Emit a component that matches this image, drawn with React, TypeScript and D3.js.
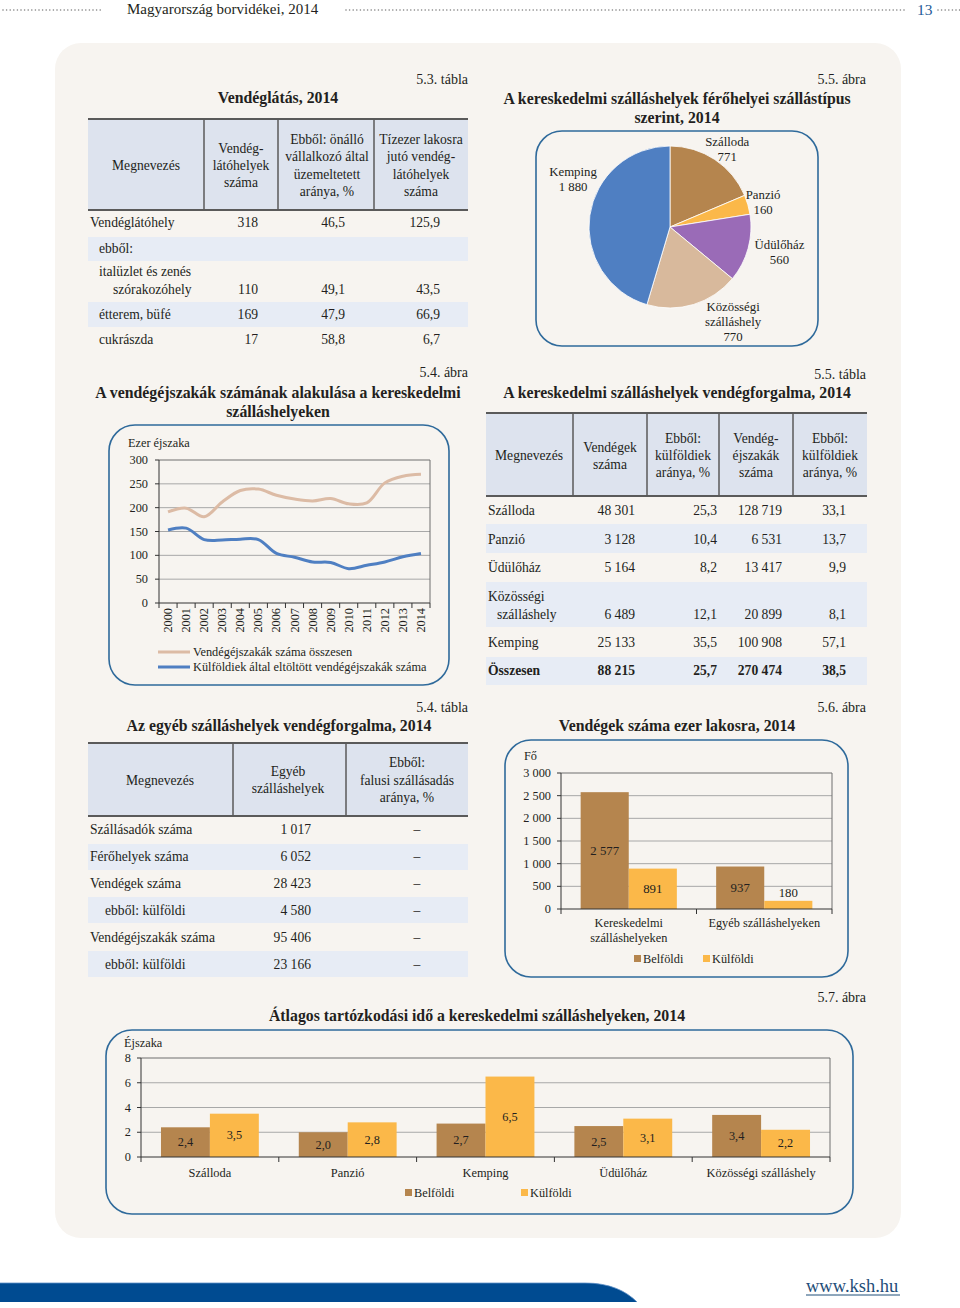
import React from "react";
import * as d3 from "d3";

const FONT = "'Liberation Serif', 'Times New Roman', serif";
const INK = "#231f20";
const PANEL = "#f7f4f0";
const HEAD_FILL = "#dde3ee";
const BAND_FILL = "#e7ecf5";
const RULE = "#5a5a5a";
const BOX = "#2f6a9b";
const BROWN = "#b5854e";
const YELLOW = "#fbb849";
const PURPLE = "#9a6bb7";
const TAN = "#d8b99c";
const BLUE = "#4f7fc2";
const LINE_TAN = "#dcbba5";
const GRID = "#a8a8a8";
const FRAME = "#6e6e6e";

const BODY = 13.6;
const TITLE = 15.8;
const SMALL = 12.3;

const hu = d3.formatLocale({ decimal: ",", thousands: " ", grouping: [3], currency: ["", ""] });
const fInt = hu.format(",d");
const f1 = hu.format(",.1f");

// ---------- 5.3 tábla ----------
const t53Head = [
  ["Megnevezés"],
  ["Vendég-", "látóhelyek", "száma"],
  ["Ebből: önálló", "vállalkozó által", "üzemeltetett", "aránya, %"],
  ["Tízezer lakosra", "jutó vendég-", "látóhelyek", "száma"],
];
const t53Names = [["Vendéglátóhely"], ["ebből:"], ["italüzlet és zenés", "szórakozóhely"], ["étterem, büfé"], ["cukrászda"]];
const t53Count = [318, null, 110, 169, 17];
const t53Self = [46.5, null, 49.1, 47.9, 58.8];
const t53Per10k = [125.9, null, 43.5, 66.9, 6.7];

// ---------- 5.5 ábra ----------
const pieNames = [["Szálloda"], ["Panzió"], ["Üdülőház"], ["Közösségi", "szálláshely"], ["Kemping"]];
const pieValues = [771, 160, 560, 770, 1880];
const pieColors = [BROWN, YELLOW, PURPLE, TAN, BLUE];

// ---------- 5.4 ábra ----------
const years = ["2000", "2001", "2002", "2003", "2004", "2005", "2006", "2007", "2008", "2009", "2010", "2011", "2012", "2013", "2014"];
const nightsTotal = [191, 199, 181, 212, 236, 239, 226, 218, 214, 219, 208, 210, 252, 266, 270];
const nightsForeign = [153, 157, 133, 132, 134, 133, 104, 96, 86, 85, 72, 79, 86, 97, 104];
const lineSeries = ["Vendégéjszakák száma összesen", "Külföldiek által eltöltött vendégéjszakák száma"];

// ---------- 5.5 tábla ----------
const t55Head = [
  ["Megnevezés"],
  ["Vendégek", "száma"],
  ["Ebből:", "külföldiek", "aránya, %"],
  ["Vendég-", "éjszakák", "száma"],
  ["Ebből:", "külföldiek", "aránya, %"],
];
const t55Names = [["Szálloda"], ["Panzió"], ["Üdülőház"], ["Közösségi", "szálláshely"], ["Kemping"], ["Összesen"]];
const t55Guests = [48301, 3128, 5164, 6489, 25133, 88215];
const t55GuestsForeign = [25.3, 10.4, 8.2, 12.1, 35.5, 25.7];
const t55Nights = [128719, 6531, 13417, 20899, 100908, 270474];
const t55NightsForeign = [33.1, 13.7, 9.9, 8.1, 57.1, 38.5];

// ---------- 5.4 tábla ----------
const t54Head = [["Megnevezés"], ["Egyéb", "szálláshelyek"], ["Ebből:", "falusi szállásadás", "aránya, %"]];
const t54Names = ["Szállásadók száma", "Férőhelyek száma", "Vendégek száma", "ebből: külföldi", "Vendégéjszakák száma", "ebből: külföldi"];
const t54Indent = [false, false, false, true, false, true];
const t54Values = [1017, 6052, 28423, 4580, 95406, 23166];
const t54Rural = [null, null, null, null, null, null];

// ---------- 5.6 ábra ----------
const b56Cats = [["Kereskedelmi", "szálláshelyeken"], ["Egyéb szálláshelyeken"]];
const b56Dom = [2577, 937];
const b56For = [891, 180];

// ---------- 5.7 ábra ----------
const b57Cats = ["Szálloda", "Panzió", "Kemping", "Üdülőház", "Közösségi szálláshely"];
const b57Dom = [2.4, 2.0, 2.7, 2.5, 3.4];
const b57For = [3.5, 2.8, 6.5, 3.1, 2.2];

const legendKeys = ["Belföldi", "Külföldi"];

// ---------- helpers ----------
type TP = { x: number; y: number; a?: "start" | "middle" | "end"; s?: number; w?: string | number; f?: string; children: React.ReactNode };
function T({ x, y, a = "start", s = BODY, w = "normal", f = INK, children }: TP) {
  return (
    <text x={x} y={y} textAnchor={a} fontSize={s} fontWeight={w} fill={f} fontFamily={FONT}>
      {children}
    </text>
  );
}
function Lines({ x, cy, lines, lh, a = "middle", s = BODY }: { x: number; cy: number; lines: string[]; lh: number; a?: any; s?: number }) {
  const y0 = cy - ((lines.length - 1) * lh) / 2;
  return (
    <g>
      {lines.map((l, i) => (
        <T key={i} x={x} y={y0 + i * lh} a={a} s={s}>
          {l}
        </T>
      ))}
    </g>
  );
}
function Box({ x, y, w, h }: { x: number; y: number; w: number; h: number }) {
  return <rect x={x} y={y} width={w} height={h} rx={26} ry={26} fill="none" stroke={BOX} strokeWidth={1.6} />;
}
function TableHead({ x0, x1, y0, y1, dividers, centers, heads, cy, lh }: any) {
  return (
    <g>
      <rect x={x0} y={y0} width={x1 - x0} height={y1 - y0} fill={HEAD_FILL} />
      <line x1={x0} x2={x1} y1={y0} y2={y0} stroke={RULE} strokeWidth={2} />
      <line x1={x0} x2={x1} y1={y1} y2={y1} stroke={RULE} strokeWidth={2} />
      {dividers.map((d: number) => (
        <line key={d} x1={d} x2={d} y1={y0} y2={y1} stroke={RULE} strokeWidth={1.5} />
      ))}
      {heads.map((h: string[], i: number) => (
        <Lines key={i} x={centers[i]} cy={cy} lines={h} lh={lh} />
      ))}
    </g>
  );
}

function Header() {
  const dots = [...d3.range(3, 101, 3.6), ...d3.range(346, 906, 3.6), ...d3.range(938, 960, 3.6)];
  return (
    <g>
      {dots.map((x, i) => (
        <circle key={i} cx={x} cy={10} r={0.8} fill="#808080" />
      ))}
      <T x={127} y={14} s={15}>Magyarország borvidékei, 2014</T>
      <T x={917} y={15} s={15.5} f="#1f5b97">13</T>
    </g>
  );
}

function Table53() {
  const baselines = [227, 253, 294, 319, 344];
  const bands = [null, [237, 261], null, [302, 327], null];
  const rights = [258, 345, 440];
  return (
    <g>
      <T x={468} y={84} a="end" s={14}>5.3. tábla</T>
      <T x={278} y={103} a="middle" s={TITLE} w="bold">Vendéglátás, 2014</T>
      {bands.map((b, i) => (b ? <rect key={i} x={88} y={b[0]} width={380} height={b[1] - b[0]} fill={BAND_FILL} /> : null))}
      <TableHead x0={88} x1={468} y0={119} y1={210} dividers={[204, 278, 374]} centers={[146, 241, 327, 421]} heads={t53Head} cy={170} lh={17.4} />
      {t53Names.map((n, i) => {
        const yb = baselines[i];
        return (
          <g key={i}>
            {n.length === 1 ? (
              <T x={i === 0 ? 90 : 99} y={yb}>{n[0]}</T>
            ) : (
              <g>
                <T x={99} y={yb - 18}>{n[0]}</T>
                <T x={113} y={yb}>{n[1]}</T>
              </g>
            )}
            {t53Count[i] != null && <T x={rights[0]} y={yb} a="end">{fInt(t53Count[i] as number)}</T>}
            {t53Self[i] != null && <T x={rights[1]} y={yb} a="end">{f1(t53Self[i] as number)}</T>}
            {t53Per10k[i] != null && <T x={rights[2]} y={yb} a="end">{f1(t53Per10k[i] as number)}</T>}
          </g>
        );
      })}
    </g>
  );
}

function Pie55() {
  const cx = 670, cy = 227, r = 81;
  const arcs = d3.pie<number>().sort(null).value((d) => d)(pieValues);
  const arc = d3.arc<d3.PieArcDatum<number>>().innerRadius(0).outerRadius(r);
  const labelArc = d3.arc<d3.PieArcDatum<number>>().innerRadius(100).outerRadius(100);
  const offsets = [[2, 9.5], [-3, 7], [13, 3.5], [34, 3.5], [2, -29]];
  return (
    <g>
      <T x={866} y={84} a="end" s={14}>5.5. ábra</T>
      <T x={677} y={104} a="middle" s={TITLE} w="bold">A kereskedelmi szálláshelyek férőhelyei szállástípus</T>
      <T x={677} y={123} a="middle" s={TITLE} w="bold">szerint, 2014</T>
      <Box x={536} y={131} w={282} h={215} />
      <g transform={`translate(${cx},${cy})`}>
        {arcs.map((a, i) => (
          <path key={i} d={arc(a) as string} fill={pieColors[i]} stroke="#fff" strokeWidth={0.8} />
        ))}
        {arcs.map((a, i) => {
          const [lx, ly] = labelArc.centroid(a);
          const lines = [...pieNames[i], fInt(pieValues[i])];
          return <Lines key={i} x={lx + offsets[i][0]} cy={ly + offsets[i][1]} lines={lines} lh={14.8} s={12.8} />;
        })}
      </g>
    </g>
  );
}

function Line54() {
  const x = d3.scaleBand().domain(years).range([159, 430]);
  const y = d3.scaleLinear().domain([0, 300]).range([603, 460]);
  const px = (yr: string) => (x(yr) as number) + x.bandwidth() / 2;
  const line = d3
    .line<number>()
    .x((_, i) => px(years[i]))
    .y((d) => y(d))
    .curve(d3.curveCatmullRom.alpha(0.5));
  const ticks = y.ticks(6);
  const edges = d3.range(years.length + 1).map((i) => 159 + i * x.step());
  return (
    <g>
      <T x={468} y={377} a="end" s={14}>5.4. ábra</T>
      <T x={278} y={398} a="middle" s={TITLE} w="bold">A vendégéjszakák számának alakulása a kereskedelmi</T>
      <T x={278} y={417} a="middle" s={TITLE} w="bold">szálláshelyeken</T>
      <Box x={109} y={425} w={340} h={260} />
      <T x={128} y={447} s={SMALL}>Ezer éjszaka</T>
      {ticks.map((t) => (
        <g key={t}>
          {t > 0 && t < 300 && <line x1={159} x2={430} y1={y(t)} y2={y(t)} stroke={GRID} strokeWidth={1} />}
          <line x1={155} x2={159} y1={y(t)} y2={y(t)} stroke="#333" />
          <T x={148} y={y(t) + 4} a="end" s={SMALL}>{t}</T>
        </g>
      ))}
      <line x1={159} x2={430} y1={y(300)} y2={y(300)} stroke={FRAME} />
      <line x1={430} x2={430} y1={y(300)} y2={y(0)} stroke={FRAME} />
      <line x1={159} x2={159} y1={y(300)} y2={y(0)} stroke="#333" />
      <line x1={159} x2={430} y1={y(0)} y2={y(0)} stroke="#333" />
      {edges.map((e, i) => (
        <line key={i} x1={e} x2={e} y1={y(0)} y2={y(0) + 5} stroke="#333" />
      ))}
      {years.map((yr) => (
        <text key={yr} transform={`translate(${px(yr) + 4},${608}) rotate(-90)`} textAnchor="end" fontSize={SMALL} fontFamily={FONT} fill={INK}>
          {yr}
        </text>
      ))}
      <path d={line(nightsTotal) as string} fill="none" stroke={LINE_TAN} strokeWidth={3} strokeLinejoin="round" />
      <path d={line(nightsForeign) as string} fill="none" stroke={BLUE} strokeWidth={3} strokeLinejoin="round" />
      {[LINE_TAN, BLUE].map((c, i) => (
        <g key={i}>
          <line x1={158} x2={190} y1={652 + i * 15} y2={652 + i * 15} stroke={c} strokeWidth={3} />
          <T x={193} y={656 + i * 15} s={SMALL}>{lineSeries[i]}</T>
        </g>
      ))}
    </g>
  );
}

function Table55() {
  const baselines = [515, 544, 572, 619, 647, 675];
  const bands = [null, [524, 553], null, [582, 627], null, [657, 685]];
  const rights = [635, 717, 782, 846];
  return (
    <g>
      <T x={866} y={379} a="end" s={14}>5.5. tábla</T>
      <T x={677} y={398} a="middle" s={TITLE} w="bold">A kereskedelmi szálláshelyek vendégforgalma, 2014</T>
      {bands.map((b, i) => (b ? <rect key={i} x={486} y={b[0]} width={381} height={b[1] - b[0]} fill={BAND_FILL} /> : null))}
      <TableHead x0={486} x1={867} y0={413} y1={496} dividers={[573, 647, 719, 793]} centers={[529, 610, 683, 756, 830]} heads={t55Head} cy={460} lh={17} />
      {t55Names.map((n, i) => {
        const yb = baselines[i];
        const w = i === t55Names.length - 1 ? "bold" : "normal";
        return (
          <g key={i}>
            {n.length === 1 ? (
              <T x={488} y={yb} w={w}>{n[0]}</T>
            ) : (
              <g>
                <T x={488} y={yb - 18}>{n[0]}</T>
                <T x={497} y={yb}>{n[1]}</T>
              </g>
            )}
            <T x={rights[0]} y={yb} a="end" w={w}>{fInt(t55Guests[i])}</T>
            <T x={rights[1]} y={yb} a="end" w={w}>{f1(t55GuestsForeign[i])}</T>
            <T x={rights[2]} y={yb} a="end" w={w}>{fInt(t55Nights[i])}</T>
            <T x={rights[3]} y={yb} a="end" w={w}>{f1(t55NightsForeign[i])}</T>
          </g>
        );
      })}
    </g>
  );
}

function Table54() {
  const baselines = [834, 861, 888, 915, 942, 969];
  const bands = [null, [844, 870], null, [897, 923], null, [951, 977]];
  return (
    <g>
      <T x={468} y={712} a="end" s={14}>5.4. tábla</T>
      <T x={279} y={731} a="middle" s={TITLE} w="bold">Az egyéb szálláshelyek vendégforgalma, 2014</T>
      {bands.map((b, i) => (b ? <rect key={i} x={88} y={b[0]} width={380} height={b[1] - b[0]} fill={BAND_FILL} /> : null))}
      <TableHead x0={88} x1={468} y0={743} y1={816} dividers={[233, 346]} centers={[160, 288, 407]} heads={t54Head} cy={784.5} lh={17.5} />
      {t54Names.map((n, i) => (
        <g key={i}>
          <T x={t54Indent[i] ? 105 : 90} y={baselines[i]}>{n}</T>
          <T x={311} y={baselines[i]} a="end">{fInt(t54Values[i])}</T>
          <T x={417} y={baselines[i]} a="middle">{t54Rural[i] == null ? "–" : f1(t54Rural[i] as any)}</T>
        </g>
      ))}
    </g>
  );
}

function Legend({ x0, x1, y }: { x0: number; x1: number; y: number }) {
  return (
    <g>
      {[x0, x1].map((x, i) => (
        <g key={i}>
          <rect x={x} y={y - 4} width={7} height={7} fill={i === 0 ? BROWN : YELLOW} />
          <T x={x + 9} y={y + 4} s={SMALL}>{legendKeys[i]}</T>
        </g>
      ))}
    </g>
  );
}

function Bar56() {
  const keys = ["dom", "for"];
  const x0 = d3.scaleBand().domain(["0", "1"]).range([561, 832]).paddingInner(0.29).paddingOuter(0.145);
  const x1 = d3.scaleBand().domain(keys).range([0, x0.bandwidth()]);
  const y = d3.scaleLinear().domain([0, 3000]).range([909, 773]);
  const ticks = y.ticks(6);
  return (
    <g>
      <T x={866} y={712} a="end" s={14}>5.6. ábra</T>
      <T x={677} y={731} a="middle" s={TITLE} w="bold">Vendégek száma ezer lakosra, 2014</T>
      <Box x={505} y={740} w={343} h={237} />
      <T x={524} y={760} s={SMALL}>Fő</T>
      {ticks.map((t) => (
        <g key={t}>
          {t > 0 && t < 3000 && <line x1={561} x2={832} y1={y(t)} y2={y(t)} stroke={GRID} />}
          <line x1={557} x2={561} y1={y(t)} y2={y(t)} stroke="#333" />
          <T x={551} y={y(t) + 4} a="end" s={SMALL}>{fInt(t)}</T>
        </g>
      ))}
      <line x1={561} x2={832} y1={y(3000)} y2={y(3000)} stroke={FRAME} />
      <line x1={832} x2={832} y1={y(3000)} y2={y(0)} stroke={FRAME} />
      {b56Dom.map((_, i) => {
        const vals = [b56Dom[i], b56For[i]];
        const gx = x0(String(i)) as number;
        return (
          <g key={i}>
            {vals.map((v, k) => {
              const bx = gx + (x1(keys[k]) as number);
              const h = y(0) - y(v);
              const ly = h < 20 ? y(v) - 4 : y(v / 2) + 4;
              return (
                <g key={k}>
                  <rect x={bx} y={y(v)} width={x1.bandwidth()} height={h} fill={k === 0 ? BROWN : YELLOW} />
                  <T x={bx + x1.bandwidth() / 2} y={ly} a="middle" s={12.8}>{fInt(v)}</T>
                </g>
              );
            })}
            <Lines x={gx + x0.bandwidth() / 2} cy={927 + (b56Cats[i].length - 1) * 7.5} lines={b56Cats[i]} lh={15} s={SMALL} />
          </g>
        );
      })}
      <line x1={561} x2={561} y1={y(3000)} y2={y(0)} stroke="#333" />
      <line x1={561} x2={832} y1={y(0)} y2={y(0)} stroke="#333" />
      {[0, 1, 2].map((i) => {
        const ex = 561 + i * x0.step();
        return <line key={i} x1={ex} x2={ex} y1={y(0)} y2={y(0) + 5} stroke="#333" />;
      })}
      <Legend x0={634} x1={703} y={959} />
    </g>
  );
}

function Bar57() {
  const keys = ["dom", "for"];
  const x0 = d3.scaleBand().domain(b57Cats).range([141, 830]).paddingInner(0.29).paddingOuter(0.145);
  const x1 = d3.scaleBand().domain(keys).range([0, x0.bandwidth()]);
  const y = d3.scaleLinear().domain([0, 8]).range([1157, 1058]);
  const ticks = y.ticks(4);
  return (
    <g>
      <T x={866} y={1002} a="end" s={14}>5.7. ábra</T>
      <T x={477} y={1021} a="middle" s={TITLE} w="bold">Átlagos tartózkodási idő a kereskedelmi szálláshelyeken, 2014</T>
      <Box x={106} y={1030} w={747} h={184} />
      <T x={124} y={1047} s={SMALL}>Éjszaka</T>
      {ticks.map((t) => (
        <g key={t}>
          {t > 0 && t < 8 && <line x1={141} x2={830} y1={y(t)} y2={y(t)} stroke={GRID} />}
          <line x1={137} x2={141} y1={y(t)} y2={y(t)} stroke="#333" />
          <T x={131} y={y(t) + 4} a="end" s={SMALL}>{t}</T>
        </g>
      ))}
      <line x1={141} x2={830} y1={y(8)} y2={y(8)} stroke={FRAME} />
      <line x1={830} x2={830} y1={y(8)} y2={y(0)} stroke={FRAME} />
      {b57Cats.map((c, i) => {
        const vals = [b57Dom[i], b57For[i]];
        const gx = x0(c) as number;
        return (
          <g key={c}>
            {vals.map((v, k) => {
              const bx = gx + (x1(keys[k]) as number);
              return (
                <g key={k}>
                  <rect x={bx} y={y(v)} width={x1.bandwidth()} height={y(0) - y(v)} fill={k === 0 ? BROWN : YELLOW} />
                  <T x={bx + x1.bandwidth() / 2} y={y(v / 2) + 4} a="middle" s={SMALL}>{f1(v)}</T>
                </g>
              );
            })}
            <T x={gx + x0.bandwidth() / 2} y={1177} a="middle" s={12.4}>{c}</T>
          </g>
        );
      })}
      <line x1={141} x2={141} y1={y(8)} y2={y(0)} stroke="#333" />
      <line x1={141} x2={830} y1={y(0)} y2={y(0)} stroke="#333" />
      {d3.range(b57Cats.length + 1).map((i) => {
        const ex = 141 + i * x0.step();
        return <line key={i} x1={ex} x2={ex} y1={y(0)} y2={y(0) + 5} stroke="#333" />;
      })}
      <Legend x0={405} x1={521} y={1193} />
    </g>
  );
}

function Footer() {
  return (
    <g>
      <path d="M0,1283 H585 C610,1283 626,1291 637,1302 H0 Z" fill="#004b91" />
      <path d="M0,1283 H585 C610,1283 626,1291 637,1302" fill="none" stroke="#5d8fc6" strokeWidth={0.8} />
      <T x={806} y={1292} s={18.5} f="#1f4e79">www.ksh.hu</T>
      <line x1={806} x2={900} y1={1295} y2={1295} stroke="#1f4e79" strokeWidth={1} />
    </g>
  );
}

export default function App() {
  return (
    <svg width={960} height={1308} viewBox="0 0 960 1308" style={{ position: "absolute", left: 0, top: 0, display: "block" }} fontFamily={FONT}>
      <rect x={0} y={0} width={960} height={1308} fill="#fff" />
      <Header />
      <rect x={55} y={43} width={846} height={1195} rx={26} ry={26} fill={PANEL} />
      <Table53 />
      <Pie55 />
      <Line54 />
      <Table55 />
      <Table54 />
      <Bar56 />
      <Bar57 />
      <Footer />
    </svg>
  );
}
